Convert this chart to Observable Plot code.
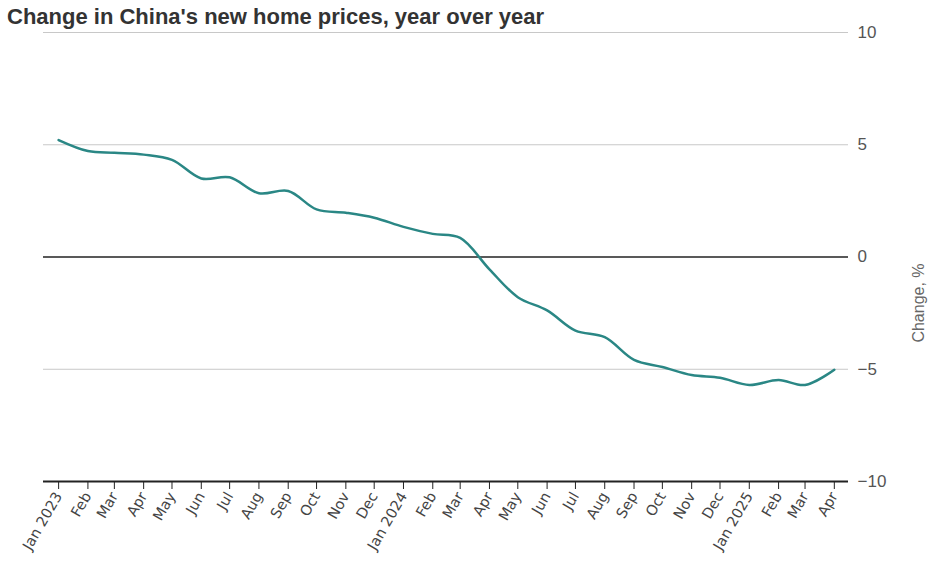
<!DOCTYPE html>
<html>
<head>
<meta charset="utf-8">
<script src="https://cdn.jsdelivr.net/npm/d3@7"></script>
<script src="https://cdn.jsdelivr.net/npm/@observablehq/plot@0.6"></script>
<style>
  html, body { margin: 0; padding: 0; background: #fff; }
  #wrap { position: relative; width: 936px; height: 576px; }
  #title { position: absolute; left: 7px; top: 6px; font: bold 22px/22px "Liberation Sans", Arial, sans-serif; color: #333; white-space: nowrap; }
  #chart { position: absolute; left: 0; top: 0; }
</style>
</head>
<body>
<div id="wrap">
  <div id="chart"></div>
  <div id="title">Change in China's new home prices, year over year</div>
</div>
<script>
const months = ["2023-01","2023-02","2023-03","2023-04","2023-05","2023-06","2023-07","2023-08","2023-09","2023-10","2023-11","2023-12",
  "2024-01","2024-02","2024-03","2024-04","2024-05","2024-06","2024-07","2024-08","2024-09","2024-10","2024-11","2024-12",
  "2025-01","2025-02","2025-03","2025-04"];
const values = [5.21, 4.72, 4.64, 4.56, 4.33, 3.50, 3.55, 2.84, 2.94, 2.12, 1.97, 1.75,
  1.34, 1.03, 0.85, -0.55, -1.79, -2.38, -3.28, -3.57, -4.58, -4.90, -5.26, -5.38,
  -5.70, -5.48, -5.70, -5.02];
const yTicks = [-10, -5, 0, 5, 10];
const yLabel = "Change, %";

const data = months.map((m, i) => ({date: new Date(m + "-01T00:00:00Z"), value: values[i]}));
const tickDates = data.map(d => d.date);
const fmtTick = d => d.getUTCMonth() === 0 ? d3.utcFormat("%b %Y")(d) : d3.utcFormat("%b")(d);

const chart = Plot.plot({
  width: 936,
  height: 576,
  marginTop: 32,
  marginBottom: 95,
  marginLeft: 43,
  marginRight: 88,
  style: {fontFamily: "'DejaVu Sans', sans-serif", background: "white", overflow: "visible"},
  x: {type: "utc", domain: [new Date(Date.UTC(2022, 11, 16)), new Date(Date.UTC(2025, 3, 16))]},
  y: {domain: [-10, 10]},
  marks: [
    Plot.ruleY(yTicks.filter(d => d !== 0 && d !== -10), {stroke: "#c8c8c8", strokeWidth: 1}),
    Plot.ruleY([0], {stroke: "#222", strokeWidth: 1.3}),
    Plot.ruleY([-10], {stroke: "#222", strokeWidth: 2}),
    Plot.axisX({ticks: tickDates, tickFormat: fmtTick, tickRotate: -60, tickSize: 8, tickPadding: 4,
      fontSize: 14.5, fill: "#444", stroke: "#222", label: null}),
    Plot.axisY({anchor: "right", ticks: yTicks, tickSize: 0, tickPadding: 9, fontSize: 17, fill: "#555",
      fontFamily: "'Liberation Sans', Arial, sans-serif", label: null}),
    Plot.text([yLabel], {frameAnchor: "right", dx: 70, dy: 46, rotate: -90, fontSize: 16, fill: "#666",
      fontFamily: "'Liberation Sans', Arial, sans-serif", textAnchor: "middle"}),
    Plot.line(data, {x: "date", y: "value", stroke: "#2a8785", strokeWidth: 2.5, curve: "catmull-rom"})
  ]
});
document.getElementById("chart").appendChild(chart);
</script>
</body>
</html>
